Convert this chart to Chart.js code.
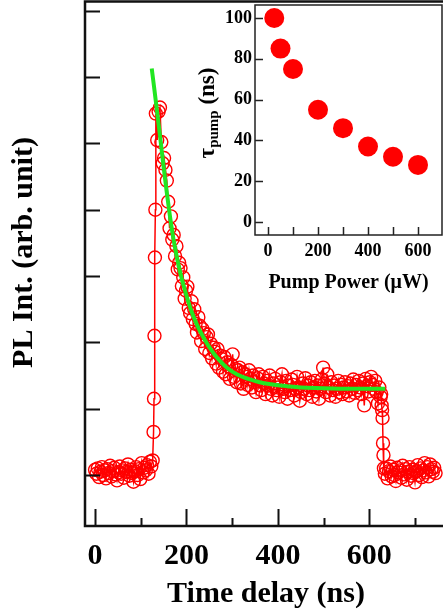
<!DOCTYPE html>
<html>
<head>
<meta charset="utf-8">
<script src="https://cdn.jsdelivr.net/npm/chart.js@4.4.1/dist/chart.umd.min.js"></script>
<style>
  html, body { margin: 0; padding: 0; background: #fff; overflow: hidden; }
  #wrap { position: relative; width: 443px; height: 612px; overflow: hidden; }
  #mainChart { position: absolute; left: 0; top: 0; }
  #insetChart { position: absolute; left: 180px; top: 0; }
</style>
</head>
<body>
<div id="wrap">
  <canvas id="mainChart" width="452" height="612"></canvas>
  <canvas id="insetChart" width="263" height="300"></canvas>
</div>
<script>
// time-resolved PL trace (ns, arb. unit; one y tick = 1 unit)
var timeNs = [
  0,3,6,9,12,15,18,21,24,27,
  30,33,36,39,42,45,48,51,54,57,
  60,63,66,69,72,75,78,81,84,87,
  90,93,96,99,102,105,108,111,114,117,
  120,123,126,
  128,129,130,131,132,133,
  136,139,142,145,148,151,154,157,160,163,
  166,169,172,175,178,181,184,187,190,193,
  196,199,202,205,208,211,214,217,220,223,
  226,229,232,235,238,241,244,247,250,253,
  256,259,262,265,268,271,274,277,280,283,
  286,289,292,295,298,301,304,307,310,313,
  316,319,322,325,328,331,334,337,340,343,
  346,349,352,355,358,361,364,367,370,373,
  376,379,382,385,388,391,394,397,400,403,
  406,409,412,415,418,421,424,427,430,433,
  436,439,442,445,448,451,454,457,460,463,
  466,469,472,475,478,481,484,487,490,493,
  496,499,502,505,508,511,514,517,520,523,
  526,529,532,535,538,541,544,547,550,553,
  556,559,562,565,568,571,574,577,580,583,
  586,589,592,595,598,601,604,607,610,613,
  616,619,622,625,
  626,627,628,629,630,631,632,
  634,637,640,643,646,649,652,655,658,661,
  664,667,670,673,676,679,682,685,688,691,
  694,697,700,703,706,709,712,715,718,721,
  724,727,730,733,736,739,742,745
];
var plIntensity = [
  0.08,0.02,0.10,-0.03,0.05,0.12,0.00,0.07,-0.05,0.09,
  0.03,0.14,-0.02,0.06,0.11,0.01,-0.08,0.04,0.13,0.02,
  0.07,-0.04,0.10,0.05,0.16,-0.01,0.08,0.03,-0.10,0.06,
  0.12,0.00,0.09,-0.06,0.18,0.04,0.11,0.07,0.15,0.02,
  0.20,0.13,0.22,
  0.65,1.15,2.10,3.28,4.00,5.45,
  5.05,5.48,5.54,5.02,4.70,4.78,4.60,4.44,4.12,3.72,
  3.90,3.55,3.62,3.30,3.45,3.10,3.20,3.12,2.85,2.98,
  2.66,2.78,2.84,2.52,2.44,2.62,2.35,2.50,2.28,2.15,
  2.38,2.25,2.02,2.20,2.14,1.90,2.08,2.12,1.84,1.98,
  1.76,1.92,1.86,1.68,1.90,1.62,1.80,1.75,1.56,1.78,
  1.52,1.70,1.64,1.45,1.66,1.82,1.48,1.60,1.40,1.58,
  1.62,1.38,1.55,1.30,1.52,1.48,1.36,1.58,1.45,1.32,
  1.50,1.40,1.25,1.46,1.52,1.35,1.28,1.48,1.38,1.22,
  1.42,1.35,1.50,1.30,1.20,1.38,1.45,1.28,1.32,1.18,
  1.40,1.52,1.30,1.25,1.42,1.15,1.35,1.28,1.44,1.36,
  1.20,1.30,1.48,1.32,1.12,1.25,1.38,1.30,1.46,1.22,
  1.35,1.28,1.40,1.18,1.32,1.42,1.26,1.35,1.15,1.30,
  1.44,1.62,1.38,1.25,1.52,1.32,1.20,1.40,1.28,1.35,
  1.18,1.30,1.42,1.25,1.36,1.22,1.32,1.40,1.26,1.34,
  1.20,1.38,1.30,1.44,1.24,1.36,1.28,1.42,1.32,1.22,
  1.38,1.05,1.45,1.34,1.26,1.40,1.48,1.36,1.30,1.42,
  1.25,1.08,1.32,1.18,
  1.22,1.05,0.98,0.86,0.48,0.30,0.10,
  0.02,0.10,-0.05,0.06,0.13,-0.02,0.08,0.00,-0.09,0.11,
  0.04,0.07,-0.04,0.14,0.01,0.09,-0.07,0.05,0.12,-0.01,
  0.08,0.03,-0.11,0.06,0.15,0.00,0.10,-0.03,0.07,0.18,
  0.04,0.12,-0.02,0.16,0.09,0.05,0.11,0.03
];

// exponential fit
var fitTime = [124,130,136,142,148,154,160,166,172,178,186,194,202,212,224,236,248,260,275,290,310,335,360,385,420,450,500,550,600,635];
var fitIntensity = [6.13,5.80,5.46,5.12,4.76,4.42,4.10,3.80,3.54,3.32,3.06,2.85,2.66,2.45,2.25,2.09,1.95,1.83,1.71,1.61,1.52,1.45,1.40,1.37,1.34,1.32,1.31,1.30,1.30,1.30];

// inset: decay time vs pump power
var pumpPower = [25, 50, 100, 200, 300, 400, 500, 600];
var tauPump = [100, 85, 75, 55, 46, 37, 32, 28];

// tick positions
var mainXTicks = [0, 100, 200, 300, 400, 500, 600, 700];
var mainYTicks = [0, 1, 2, 3, 4, 5, 6, 7];
var insetXTicks = [0, 100, 200, 300, 400, 500, 600];
var insetYTicks = [0, 20, 40, 60, 80, 100];

var serif = '"Liberation Serif", "Times New Roman", serif';

function points(xs, ys) {
  return xs.map(function (x, i) { return { x: x, y: ys[i] }; });
}
function setTicks(values) {
  return function (scale) {
    scale.ticks = values.map(function (v) { return { value: v }; });
  };
}

// box round the plot area and ticks pointing inward
var frame = {
  id: 'frame',
  beforeDraw: function (chart, args, opts) {
    if (!opts.fill) return;
    var a = chart.chartArea, ctx = chart.ctx;
    ctx.save();
    ctx.fillStyle = opts.fill;
    ctx.fillRect(a.left, a.top, a.right - a.left, a.bottom - a.top);
    ctx.restore();
  },
  afterDraw: function (chart, args, opts) {
    var a = chart.chartArea, ctx = chart.ctx, sx = chart.scales.x, sy = chart.scales.y;
    ctx.save();
    ctx.strokeStyle = opts.color;
    ctx.lineWidth = opts.width;
    ctx.strokeRect(a.left, a.top, a.right - a.left, a.bottom - a.top);
    ctx.lineWidth = opts.tickWidth;
    ctx.beginPath();
    sx.ticks.forEach(function (t) {
      var px = Math.round(sx.getPixelForValue(t.value)) + 0.5;
      var len = t.value % opts.major === 0 ? opts.xLong : opts.xShort;
      ctx.moveTo(px, a.bottom);
      ctx.lineTo(px, a.bottom - len);
    });
    sy.ticks.forEach(function (t) {
      var py = Math.round(sy.getPixelForValue(t.value)) + 0.5;
      ctx.moveTo(a.left, py);
      ctx.lineTo(a.left + opts.yLen, py);
    });
    ctx.stroke();
    ctx.restore();
  }
};

new Chart(document.getElementById('mainChart'), {
  type: 'scatter',
  data: {
    datasets: [{
      label: 'fit',
      data: points(fitTime, fitIntensity),
      showLine: true,
      borderColor: '#22e622',
      borderWidth: 4,
      pointRadius: 0,
      tension: 0.4,
      order: 0
    }, {
      label: 'PL',
      data: points(timeNs, plIntensity),
      showLine: true,
      borderColor: '#ff0000',
      borderWidth: 1.5,
      pointRadius: 6.5,
      pointBorderWidth: 1.4,
      pointBorderColor: '#ff0000',
      pointBackgroundColor: 'rgba(0,0,0,0)',
      order: 1
    }]
  },
  options: {
    responsive: false,
    animation: false,
    layout: { autoPadding: false, padding: { top: 1.5, right: 5, left: 0, bottom: 0 } },
    plugins: {
      legend: { display: false },
      tooltip: { enabled: false },
      frame: { color: '#111', width: 2.5, tickWidth: 2, major: 200, xLong: 17, xShort: 8, yLen: 15 }
    },
    scales: {
      x: {
        type: 'linear',
        min: -22,
        max: 770,
        afterBuildTicks: setTicks(mainXTicks),
        afterFit: function (s) { s.height = 86; s.paddingLeft = 0; s.paddingRight = 0; },
        grid: { display: false, drawTicks: false },
        border: { display: false },
        ticks: {
          autoSkip: false,
          maxRotation: 0,
          minRotation: 0,
          padding: 12,
          color: '#000',
          font: { family: serif, size: 30, weight: 'bold' },
          callback: function (v) { return v % 200 === 0 ? v : ''; }
        },
        title: {
          display: true,
          text: 'Time delay (ns)',
          color: '#000',
          font: { family: serif, size: 30, weight: 'bold', lineHeight: 0.9 }
        }
      },
      y: {
        min: -0.768,
        max: 7.139,
        afterBuildTicks: setTicks(mainYTicks),
        afterFit: function (s) { s.width = 85; s.paddingTop = 0; s.paddingBottom = 0; },
        grid: { display: false, drawTicks: false },
        border: { display: false },
        ticks: { display: false },
        title: {
          display: true,
          text: '\u2002 PL Int. (arb. unit)',
          color: '#000',
          font: { family: serif, size: 30, weight: 'bold', lineHeight: 1.35 }
        }
      }
    }
  },
  plugins: [frame]
});

// tau with a subscript, drawn by hand since the title option has no subscripts
var tauTitle = {
  id: 'tauTitle',
  afterDraw: function (chart) {
    var ctx = chart.ctx;
    var big = 'bold 23px ' + serif, small = 'bold 15px ' + serif;
    ctx.save();
    ctx.font = big;
    var w1 = ctx.measureText('\u03c4').width, w3 = ctx.measureText(' (ns)').width;
    ctx.font = small;
    var w2 = ctx.measureText('pump').width;
    ctx.translate(34, 113);
    ctx.rotate(-Math.PI / 2);
    ctx.fillStyle = '#000';
    ctx.textBaseline = 'alphabetic';
    var x = -(w1 + w2 + w3) / 2;
    ctx.font = big;  ctx.fillText('\u03c4', x, 0); x += w1;
    ctx.font = small; ctx.fillText('pump', x, 4); x += w2;
    ctx.font = big;  ctx.fillText(' (ns)', x, 0);
    ctx.restore();
  }
};

new Chart(document.getElementById('insetChart'), {
  type: 'scatter',
  data: {
    datasets: [{
      data: points(pumpPower, tauPump),
      backgroundColor: '#ff0000',
      borderWidth: 0,
      pointRadius: 10
    }]
  },
  options: {
    responsive: false,
    animation: false,
    layout: { autoPadding: false, padding: { top: 5, right: 1, left: 0, bottom: 0 } },
    plugins: {
      legend: { display: false },
      tooltip: { enabled: false },
      frame: { fill: '#fff', color: '#222', width: 1.5, tickWidth: 1.5, major: 100, xLong: 8, xShort: 8, yLen: 8 }
    },
    scales: {
      x: {
        min: -52,
        max: 696,
        afterBuildTicks: setTicks(insetXTicks),
        afterFit: function (s) { s.height = 65; s.paddingLeft = 0; s.paddingRight = 0; },
        grid: { display: false, drawTicks: false },
        border: { display: false },
        ticks: {
          autoSkip: false,
          maxRotation: 0,
          minRotation: 0,
          padding: 6,
          color: '#000',
          font: { family: serif, size: 18, weight: 'bold' },
          callback: function (v) { return v % 200 === 0 ? v : ''; }
        },
        title: {
          display: true,
          text: 'Pump Power (\u03bcW)',
          color: '#000',
          font: { family: serif, size: 20, weight: 'bold', lineHeight: 1.35 }
        }
      },
      y: {
        min: -6.37,
        max: 106.37,
        afterBuildTicks: setTicks(insetYTicks),
        afterFit: function (s) { s.width = 75; s.paddingTop = 0; s.paddingBottom = 0; },
        grid: { display: false, drawTicks: false },
        border: { display: false },
        ticks: {
          autoSkip: false,
          padding: 3,
          color: '#000',
          font: { family: serif, size: 18, weight: 'bold' }
        }
      }
    }
  },
  plugins: [frame, tauTitle]
});
</script>
</body>
</html>
